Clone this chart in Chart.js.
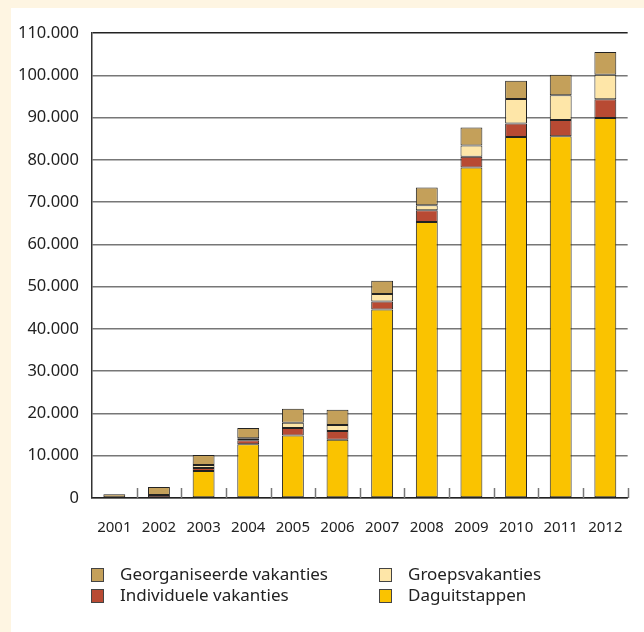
<!DOCTYPE html>
<html>
<head>
<meta charset="utf-8">
<script src="https://cdn.jsdelivr.net/npm/chart.js@4.4.0/dist/chart.umd.min.js"></script>
<style>
  html, body { margin: 0; padding: 0; }
  body { background: #fef5e2; width: 644px; height: 632px; overflow: hidden; position: relative; }
  #panel { position: absolute; left: 11px; top: 8px; width: 633px; height: 624px; background: #fff; }
  #wrap { position: absolute; left: 0; top: 0; width: 633px; height: 555px; }
  #legend { position: absolute; left: 0; top: 556px; width: 633px; font-family: "Noto Sans", sans-serif; font-size: 17px; color: #222; }
  .item { position: absolute; height: 20px; line-height: 20px; white-space: nowrap; }
  .box { position: absolute; left: 0; top: 4px; width: 13px; height: 14px; border: 1px solid #444; box-sizing: border-box; }
  .lbl { position: absolute; left: 29px; top: 0; }
</style>
</head>
<body>
<div id="panel">
  <div id="wrap"><canvas id="grafiek"></canvas></div>
  <div id="legend"></div>
</div>
<script>
const jaren = ["2001", "2002", "2003", "2004", "2005", "2006", "2007", "2008", "2009", "2010", "2011", "2012"];
const daguitstappen = [0, 0, 6400, 12700, 14800, 13800, 44600, 65300, 78200, 85400, 85600, 89900];
const individueel = [0, 700, 700, 950, 1750, 2050, 1900, 2750, 2500, 3200, 3800, 4450];
const groepsvakanties = [0, 0, 700, 500, 1250, 1400, 1750, 1200, 2700, 5800, 5850, 5750];
const georganiseerd = [900, 1900, 2400, 2400, 3300, 3650, 3150, 4200, 4250, 4300, 4850, 5400];
const yTicks = [0, 10000, 20000, 30000, 40000, 50000, 60000, 70000, 80000, 90000, 100000, 110000];

const kleuren = {
  dag: "#fac300",
  ind: "#b84a33",
  groep: "#fee6a8",
  georg: "#c4a05a",
};

function fmt(v) {
  return String(v).replace(/\B(?=(\d{3})+(?!\d))/g, ".");
}

// korte streepjes tussen de jaren op de x-as
const asStreepjes = {
  id: "asStreepjes",
  afterDatasetsDraw(chart) {
    const x = chart.scales.x;
    const area = chart.chartArea;
    const stap = (area.right - area.left) / jaren.length;
    const c = chart.ctx;
    c.save();
    c.strokeStyle = "#777";
    c.lineWidth = 1.5;
    for (let i = 1; i <= jaren.length; i++) {
      const px = Math.round(x.getPixelForValue(i - 1) + stap / 2) + 0.5;
      c.beginPath();
      c.moveTo(px, area.bottom);
      c.lineTo(px, area.bottom - 10);
      c.stroke();
    }
    c.restore();
  },
};

const sets = [
  { label: "Daguitstappen", data: daguitstappen, backgroundColor: kleuren.dag },
  { label: "Individuele vakanties", data: individueel, backgroundColor: kleuren.ind },
  { label: "Groepsvakanties", data: groepsvakanties, backgroundColor: kleuren.groep },
  { label: "Georganiseerde vakanties", data: georganiseerd, backgroundColor: kleuren.georg },
].map((d) => ({
  ...d,
  borderColor: "#222",
  borderWidth: (c) => (c.raw ? 1 : 0),
  borderSkipped: false,
  barPercentage: 0.49,
  categoryPercentage: 1,
}));

const ctx = document.getElementById("grafiek").getContext("2d");
new Chart(ctx, {
  type: "bar",
  data: { labels: jaren, datasets: sets },
  options: {
    responsive: true,
    maintainAspectRatio: false,
    animation: false,
    layout: { padding: { top: 25, right: 12, bottom: 0, left: 0 } },
    plugins: {
      legend: { display: false },
      tooltip: { enabled: false },
    },
    scales: {
      x: {
        stacked: true,
        grid: { display: false, drawTicks: false },
        border: { color: "#222", width: 1.5 },
        ticks: { color: "#222", padding: 21, font: { family: "Noto Sans", size: 15 } },
        afterFit(s) { s.height = 65; },
      },
      y: {
        stacked: true,
        min: 0,
        max: 110000,
        afterBuildTicks(s) { s.ticks = yTicks.map((v) => ({ value: v })); },
        grid: {
          drawTicks: false,
          color: (c) => (c.tick && c.tick.value === 110000 ? "#222" : "#777"),
          lineWidth: 1.5,
        },
        border: { color: "#333", width: 1.5 },
        ticks: {
          color: "#222",
          padding: 13,
          font: { family: "Noto Sans", size: 16.5 },
          callback: (v) => fmt(v),
        },
        afterFit(s) { s.width = 81; },
      },
    },
  },
  plugins: [asStreepjes],
});

// legenda in twee kolommen
const legendaItems = [
  { tekst: "Georganiseerde vakanties", kleur: kleuren.georg, x: 80, y: 0 },
  { tekst: "Groepsvakanties", kleur: kleuren.groep, x: 368, y: 0 },
  { tekst: "Individuele vakanties", kleur: kleuren.ind, x: 80, y: 21 },
  { tekst: "Daguitstappen", kleur: kleuren.dag, x: 368, y: 21 },
];
const legenda = document.getElementById("legend");
legendaItems.forEach((it) => {
  const el = document.createElement("div");
  el.className = "item";
  el.style.left = it.x + "px";
  el.style.top = it.y + "px";
  el.innerHTML = '<span class="box" style="background:' + it.kleur + '"></span><span class="lbl">' + it.tekst + "</span>";
  legenda.appendChild(el);
});
</script>
</body>
</html>
